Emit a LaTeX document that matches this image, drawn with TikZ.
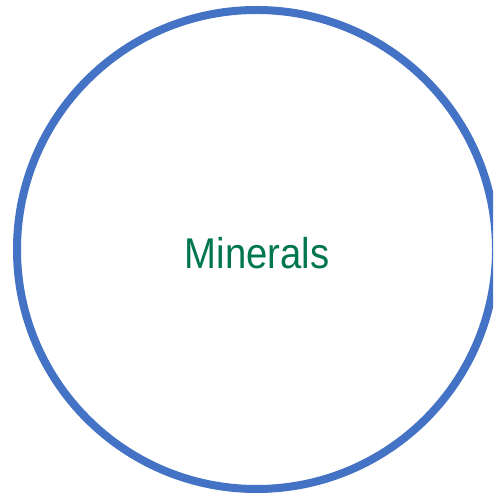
\documentclass[tikz,border=0pt]{standalone}
\usepackage{fontspec}
\setmainfont{Liberation Sans}
\definecolor{ringblue}{RGB}{68,114,196}
\definecolor{labelgreen}{RGB}{0,118,76}
\begin{document}
\begin{tikzpicture}[x=1pt,y=1pt,
  ring/.style={draw=ringblue, line width=8pt, circle, minimum size=479pt, inner sep=0pt},
  label/.style={text=labelgreen, font=\fontsize{43}{43}\selectfont, inner sep=0pt, xscale=0.89, transform shape}]
\useasboundingbox (0,0) rectangle (493,495);
\clip (0,0) rectangle (493,495);
\node[ring] (circ) at (256.5,245.5) {};
\node[label] (txt) at (257,242) {Minerals};
\end{tikzpicture}
\end{document}
